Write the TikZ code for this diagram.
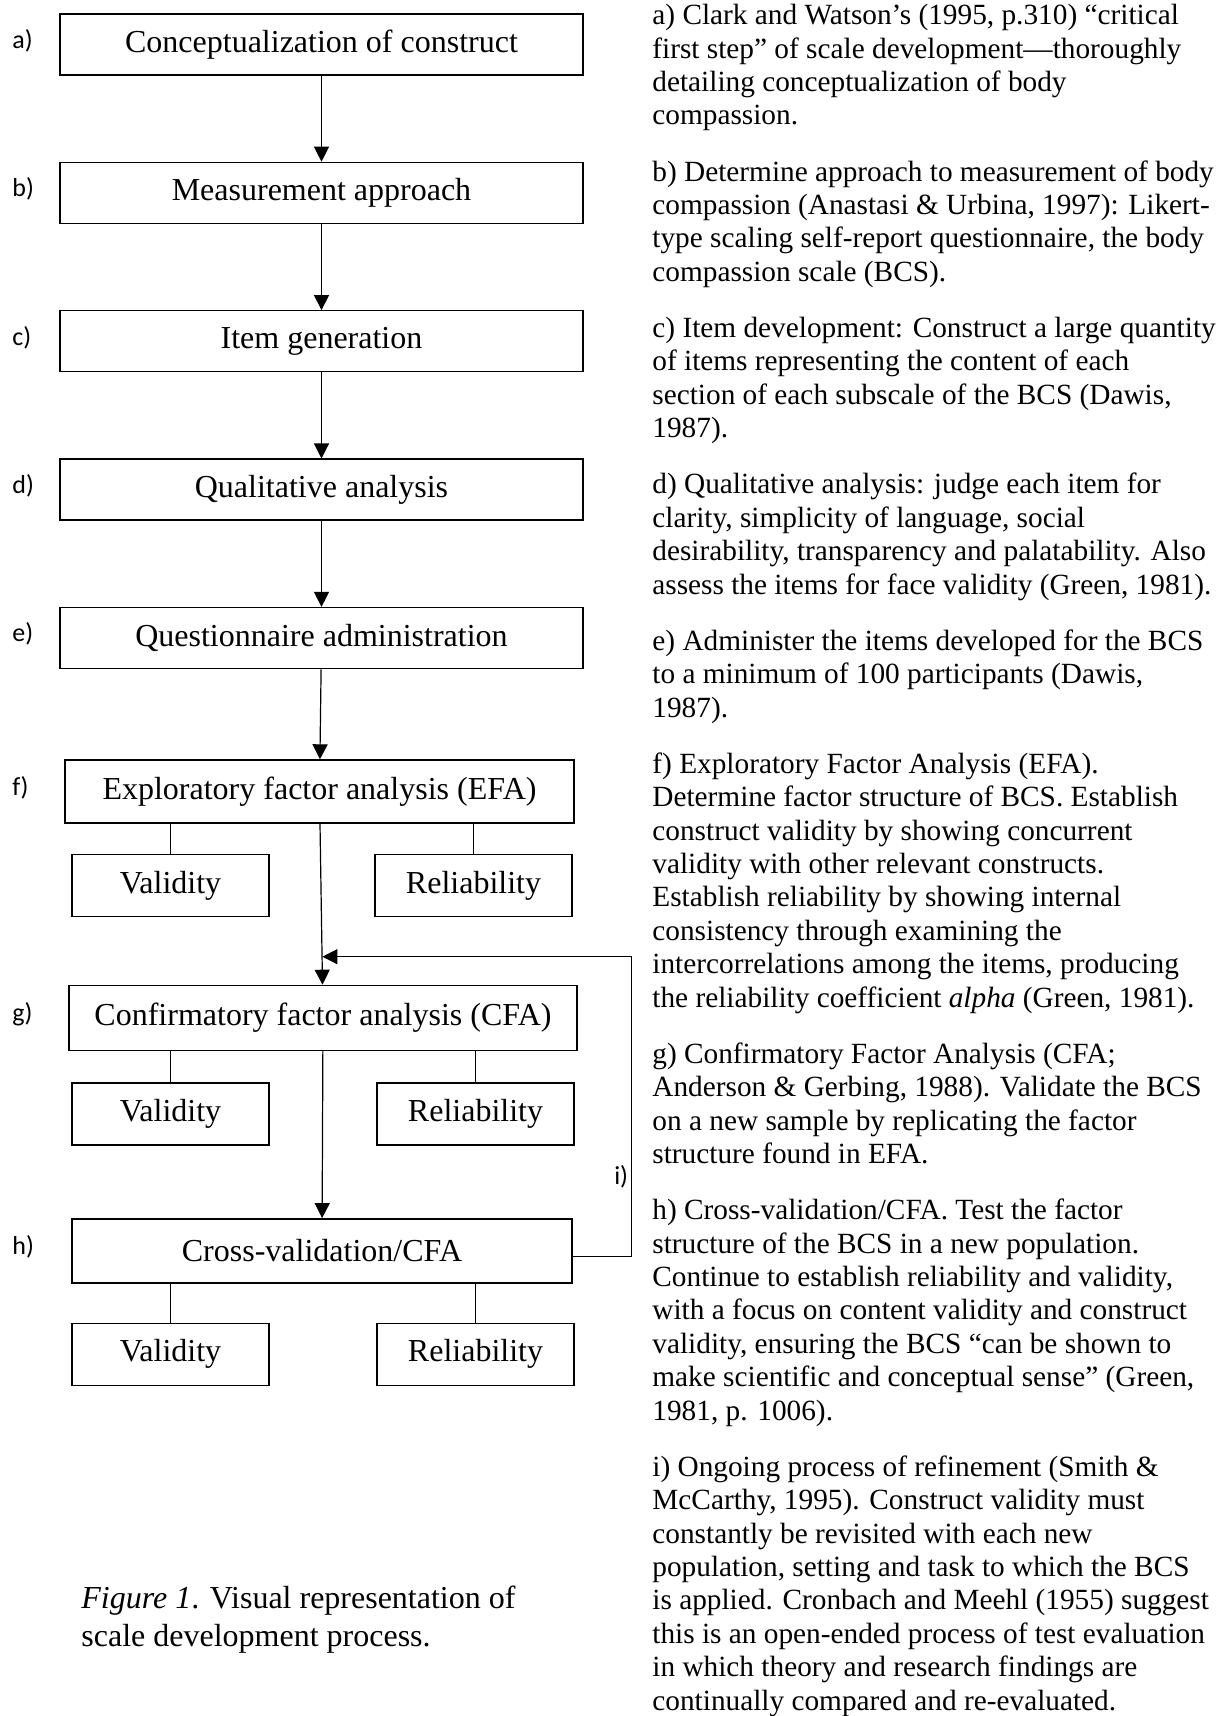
\documentclass[tikz,border=0pt]{standalone}
\usepackage{fontspec}
\setmainfont{Liberation Serif}
\newfontfamily\tagfont{Carlito}
\usetikzlibrary{positioning,calc,arrows.meta}

\begin{document}
\begin{tikzpicture}[
    x=0.5pt, y=-0.5pt,
    node distance=43pt,
    stepbox/.style={rectangle, draw, line width=0.7pt, minimum width=261.5pt, minimum height=30.5pt, inner sep=2pt, font=\fontsize{16}{18}\selectfont},
    subbox/.style={rectangle, draw, line width=0.7pt, minimum width=98.5pt, minimum height=31pt, inner sep=2pt, font=\fontsize{16}{18}\selectfont},
    tag/.style={anchor=west, inner sep=0pt, font=\tagfont\fontsize{13}{15}\selectfont},
    note/.style={anchor=north west, inner sep=0pt, align=left, font=\fontsize{14.65}{16.7}\selectfont},
    arrow/.style={-{Triangle[length=7.5pt,width=7.5pt]}, line width=0.6pt},
    link/.style={line width=0.6pt}
]
    \useasboundingbox (0,0) rectangle (1225,1716);

    \node[stepbox] (a) at (321.5,44.5) {Conceptualization of construct};
    \node[stepbox, below=of a] (b) {Measurement approach};
    \node[stepbox, below=of b] (c) {Item generation};
    \node[stepbox, below=of c] (d) {Qualitative analysis};
    \node[stepbox, below=of d] (e) {Questionnaire administration};
    \node[stepbox, minimum width=254.5pt, minimum height=31.5pt, below=45pt of e, xshift=-1pt] (f) {Exploratory factor analysis (EFA)};
    \node[stepbox, minimum width=254pt, minimum height=32.5pt, below=80.5pt of f, xshift=1.75pt] (g) {Confirmatory factor analysis (CFA)};
    \node[stepbox, minimum width=250pt, minimum height=32pt, below=83.5pt of g, xshift=-0.5pt] (h) {Cross-validation/CFA};

    \node[subbox, below right=15pt and 3.5pt of f.south west] (vf) {Validity};
    \node[subbox, below left=15pt and 1pt of f.south east] (rf) {Reliability};
    \node[subbox, below right=15.5pt and 1.5pt of g.south west] (vg) {Validity};
    \node[subbox, below left=15.5pt and 1.5pt of g.south east] (rg) {Reliability};
    \node[subbox, below right=19.5pt and 0pt of h.south west] (vh) {Validity};
    \node[subbox, below left=19.5pt and -1pt of h.south east] (rh) {Reliability};

    \foreach \s/\t in {a/b, b/c, c/d, d/e, e/f, f/g, g/h}
        \draw[arrow] (\s) -- (\t);
    \foreach \p in {f, g, h} {
        \draw[link] (v\p.north) -- (v\p.north |- \p.south);
        \draw[link] (r\p.north) -- (r\p.north |- \p.south);
    }

    \coordinate (join) at ($(f.south)!0.826!(g.north)$);
    \draw[arrow] ([yshift=-3pt]h.east) -- ++(59,0) |- node[tag, pos=0.134, anchor=east, inner sep=1.5pt] (li) {i)} (join);

    \coordinate (lx) at (12,0);
    \foreach \n in {a,...,h}
        \node[tag, yshift=2pt] (l\n) at (lx |- \n) {\n)};

    \node[note] (ta) at (652,1) {\strut a) Clark and Watson’s (1995, p.310) “critical\\ first step” of scale development—thoroughly\\ detailing conceptualization of body\\ compassion.\strut};
    \node[note, below right=11pt and 0pt of ta.south west] (tb) {\strut b) Determine approach to measurement of body\\ compassion (Anastasi \& Urbina, 1997): Likert-\\ type scaling self-report questionnaire, the body\\ compassion scale (BCS).\strut};
    \node[note, below right=11pt and 0pt of tb.south west] (tc) {\strut c) Item development: Construct a large quantity\\ of items representing the content of each\\ section of each subscale of the BCS (Dawis,\\ 1987).\strut};
    \node[note, below right=11pt and 0pt of tc.south west] (td) {\strut d) Qualitative analysis: judge each item for\\ clarity, simplicity of language, social\\ desirability, transparency and palatability. Also\\ assess the items for face validity (Green, 1981).\strut};
    \node[note, below right=11pt and 0pt of td.south west] (te) {\strut e) Administer the items developed for the BCS\\ to a minimum of 100 participants (Dawis,\\ 1987).\strut};
    \node[note, below right=11pt and 0pt of te.south west] (tf) {\strut f) Exploratory Factor Analysis (EFA).\\ Determine factor structure of BCS. Establish\\ construct validity by showing concurrent\\ validity with other relevant constructs.\\ Establish reliability by showing internal\\ consistency through examining the\\ intercorrelations among the items, producing\\ the reliability coefficient \textit{alpha} (Green, 1981).\strut};
    \node[note, below right=11pt and 0pt of tf.south west] (tg) {\strut g) Confirmatory Factor Analysis (CFA;\\ Anderson \& Gerbing, 1988). Validate the BCS\\ on a new sample by replicating the factor\\ structure found in EFA.\strut};
    \node[note, below right=11pt and 0pt of tg.south west] (th) {\strut h) Cross-validation/CFA. Test the factor\\ structure of the BCS in a new population.\\ Continue to establish reliability and validity,\\ with a focus on content validity and construct\\ validity, ensuring the BCS “can be shown to\\ make scientific and conceptual sense” (Green,\\ 1981, p. 1006).\strut};
    \node[note, below right=11pt and 0pt of th.south west] (ti) {\strut i) Ongoing process of refinement (Smith \&\\ McCarthy, 1995). Construct validity must\\ constantly be revisited with each new\\ population, setting and task to which the BCS\\ is applied. Cronbach and Meehl (1955) suggest\\ this is an open-ended process of test evaluation\\ in which theory and research findings are\\ continually compared and re-evaluated.\strut};

    \node[note, font=\fontsize{16}{19}\selectfont] (cap) at (81,1581) {\strut\textit{Figure 1}. Visual representation of\\ scale development process.\strut};
\end{tikzpicture}
\end{document}
